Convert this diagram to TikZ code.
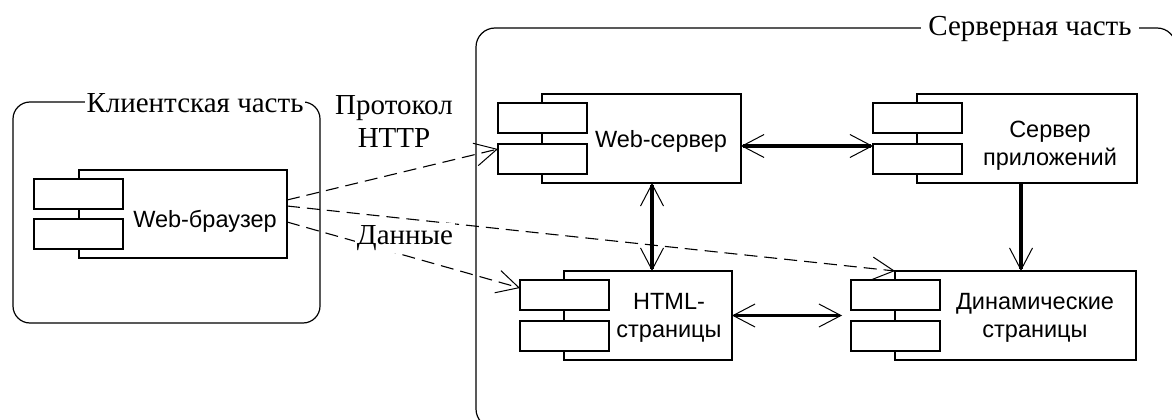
\documentclass[tikz,border=0pt]{standalone}
\usepackage{fontspec}
\setmainfont{Liberation Serif}
\newfontfamily\compsans{Liberation Sans}
\usetikzlibrary{arrows.meta}
\tikzset{
  vee/.tip={Straight Barb[length=22pt,width=23pt,line width'=1pt]},
  container/.style={draw, line width=1.2pt, rounded corners=#1, inner sep=0pt, outer sep=0pt, anchor=north west},
  grouplabel/.style={fill=white, inner ysep=1pt, anchor=base, font=\fontsize{29}{34}\selectfont},
  freelabel/.style={fill=white, inner sep=2pt, align=center, font=\fontsize{29}{33}\selectfont},
  bigbox/.style={draw, line width=1.3pt, fill=white, inner sep=0pt, outer sep=0pt, anchor=north west, minimum height=89pt},
  portbox/.style={draw, line width=1.3pt, fill=white, inner sep=0pt, outer sep=0pt, anchor=north west, minimum width=89pt, minimum height=30pt},
  comptext/.style={align=center, inner sep=0pt, font=\compsans\fontsize{23.5}{28}\selectfont},
  conn/.style={line width=3.2pt, vee-vee},
  conn1/.style={line width=3.2pt, -vee},
  dep/.style={line width=1.1pt, dash pattern=on 13pt off 7pt, -vee},
}
\begin{document}
\begin{tikzpicture}[x=1pt,y=-1pt]
\clip (0,0) rectangle (1172,420);
\fill[white] (0,0) rectangle (1172,420);

% containers
\node[container=17pt, minimum width=307pt, minimum height=221pt] (client) at (13,102) {};
\node[container=19pt, minimum width=700pt, minimum height=400pt] (server) at (476,28) {};
\node[grouplabel, inner xsep=2pt] (clientlbl) at (195,112) {Клиентская часть};
\node[grouplabel, inner xsep=7pt] (serverlbl) at (1030,36) {Серверная часть};

% Web-browser
\node[bigbox, minimum width=208pt, minimum height=88pt] (brw) at (79,170) {};
\node[portbox] (brw1) at (34,179) {};
\node[portbox] (brw2) at (34,219) {};
\node[comptext, anchor=base] (brwt) at (205,227) {Web-браузер};

% Web-server
\node[bigbox, minimum width=199pt] (ws) at (542,94) {};
\node[portbox] (ws1) at (498,103) {};
\node[portbox] (ws2) at (498,144) {};
\node[comptext, anchor=base] (wst) at (661,147) {Web-сервер};

% Application server
\node[bigbox, minimum width=220pt] (app) at (917,94) {};
\node[portbox] (app1) at (873,103) {};
\node[portbox] (app2) at (873,144) {};
\node[comptext] (appt) at (1050,146) {Сервер\\приложений};

% HTML pages
\node[bigbox, minimum width=168pt] (html) at (564,271) {};
\node[portbox] (html1) at (520,280) {};
\node[portbox] (html2) at (520,321) {};
\node[comptext] (htmlt) at (669,318) {HTML-\\страницы};

% Dynamic pages
\node[bigbox, minimum width=241pt] (dyn) at (895,271) {};
\node[portbox] (dyn1) at (851,280) {};
\node[portbox] (dyn2) at (851,321) {};
\node[comptext] (dynt) at (1035,318) {Динамические\\страницы};

% solid connectors
\draw[conn] ([yshift=-7.5pt]ws.east) -- ([yshift=-2pt]app2.north west);
\coordinate (wsh) at ([xshift=4pt]html.north |- ws.south);
\draw[conn] (wsh) -- ([xshift=4pt]html.north);
\coordinate (apd) at ([xshift=-6pt]app.south |- dyn.north);
\draw[conn1] ([xshift=-6pt]app.south) -- (apd);
\coordinate (hd) at (html.east -| dyn1.west);
\draw[conn] (html.east) -- ([xshift=-9pt]hd);

% dependencies
\draw[dep] ([yshift=14pt]brw.east) -- ([yshift=-5pt]ws2.north west);
\draw[dep] ([yshift=8pt]brw.east) -- (dyn.north west);
\draw[dep] ([yshift=-8pt]brw.east) -- ([yshift=-8pt]html1.north west);

% labels
\node[freelabel, fill=none] (proto) at (394,122) {Протокол\\HTTP};
\node[freelabel] (data) at (405,238) {Данные};
\end{tikzpicture}
\end{document}
